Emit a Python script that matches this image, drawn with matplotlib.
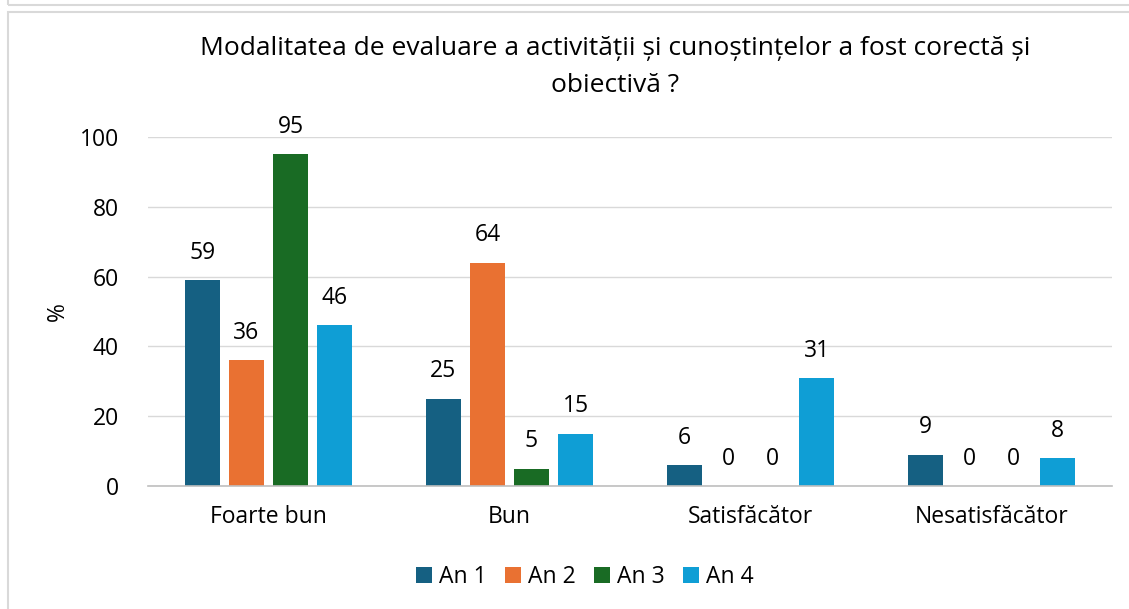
import matplotlib.pyplot as plt
import numpy as np
from matplotlib.patches import Rectangle

categories = ["Foarte bun", "Bun", "Satisfăcător", "Nesatisfăcător"]
series_names = ["An 1", "An 2", "An 3", "An 4"]
an1 = [59, 25, 6, 9]
an2 = [36, 64, 0, 0]
an3 = [95, 5, 0, 0]
an4 = [46, 15, 31, 8]
colors = ["#156082", "#E97132", "#196B24", "#0F9ED5"]

plt.rcParams['font.family'] = ['Open Sans', 'DejaVu Sans']
fs = 16.5

fig = plt.figure(figsize=(11.29, 6.09), dpi=100)
W, H = 1129, 609
ax = fig.add_axes([148 / W, 1 - 486 / H, 964 / W, (486 - 137) / H])

# chart frame
fig.patches.append(Rectangle((8 / W, -0.05), 1.2, 1 - 12 / H + 0.05, transform=fig.transFigure,
                             fill=False, edgecolor="#D9D9D9", linewidth=1.5))
fig.patches.append(Rectangle((8 / W, 1 - 5 / H), 1.2, 0.1, transform=fig.transFigure,
                             fill=False, edgecolor="#D9D9D9", linewidth=1.5))

x = np.arange(len(categories))
width = 0.145
step = 0.183
for i, (vals, name) in enumerate(zip([an1, an2, an3, an4], series_names)):
    pos = x + (i - 1.5) * step
    ax.bar(pos, vals, width, color=colors[i], label=name, zorder=2)
    for p, v in zip(pos, vals):
        ax.annotate(str(v), (p, v), xytext=(0, 11), textcoords="offset points",
                    ha="center", va="bottom", fontsize=fs)

ax.set_xlim(-0.5, 3.5)
ax.set_ylim(0, 100)
ax.set_yticks([0, 20, 40, 60, 80, 100])
ax.grid(axis="y", color="#D9D9D9", linewidth=1, zorder=0)
ax.set_axisbelow(True)
for s in ["top", "right", "left"]:
    ax.spines[s].set_visible(False)
ax.spines["bottom"].set_color("#BFBFBF")
ax.spines["bottom"].set_linewidth(1.2)
ax.tick_params(axis="both", length=0, labelsize=fs)
ax.tick_params(axis="y", pad=21)
ax.tick_params(axis="x", pad=14)
ax.set_xticks(x)
ax.set_xticklabels(categories)
ax.set_ylabel("%", fontsize=fs, labelpad=7)

fig.text(615 / W, 1 - 67 / H, "Modalitatea de evaluare a activității și cunoștințelor a fost corectă și\nobiectivă ?",
         ha="center", va="center", fontsize=19, linespacing=1.6)

fig.legend(loc="center", bbox_to_anchor=(585 / W, 1 - 577 / H), ncol=4, frameon=False,
           fontsize=fs, handlelength=0.7, handleheight=0.7, handletextpad=0.3, columnspacing=0.8)

plt.savefig("out.png", dpi=100)
